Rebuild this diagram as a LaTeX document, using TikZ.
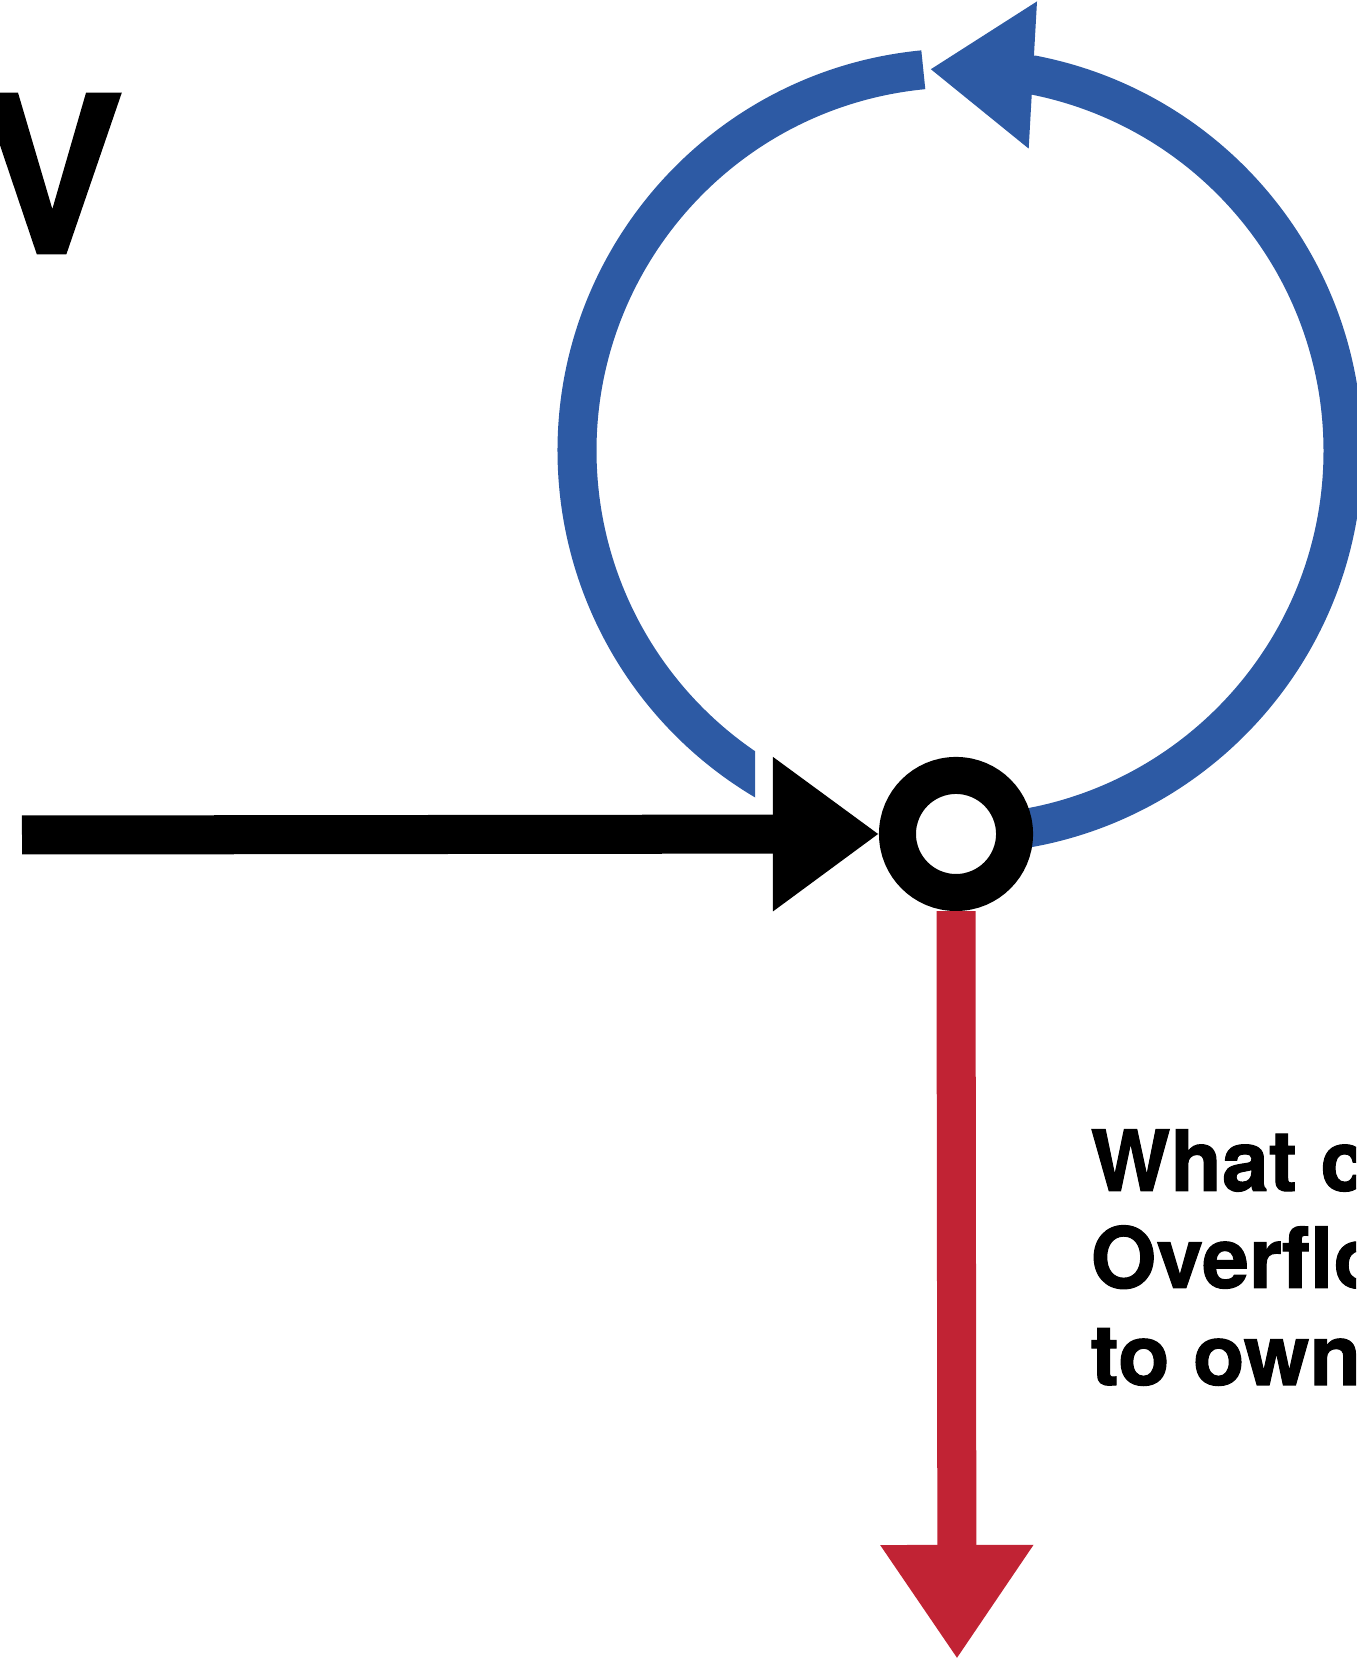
\documentclass[tikz,border=0pt]{standalone}
\usepackage{fontspec}
\setmainfont{TeX Gyre Heros}[BoldFeatures={FakeBold=1.2}]
\usetikzlibrary{arrows.meta,backgrounds}

\definecolor{loopblue}{RGB}{45,90,164}
\definecolor{drainred}{RGB}{193,35,52}

\tikzset{
    flow/.style={line width=0.39cm},
    bighead/.style={-{Triangle[length=1.06cm,width=1.47cm]}},
    label/.style={font=\bfseries\fontsize{24}{27.6}\selectfont, align=left, inner sep=0pt},
}

\begin{document}
\begin{tikzpicture}[x=0.01cm, y=0.01cm]
    \useasboundingbox (0,0) rectangle (1356,1661);
    \clip (0,0) rectangle (1356,1661);

    % Ring
    \node[circle, draw, fill=white, line width=0.37cm, inner sep=0pt, minimum size=1.17cm] (hub) at (956,827) {};
    \coordinate (src) at (22,826);
    \coordinate (sink) at (957,2);
    \path (hub) ++(4,383) coordinate (loopc);

    % Loop
    \begin{scope}[on background layer]
        \draw[flow, loopblue, -{Triangle[length=1.03cm,width=1.40cm]}] ([shift={(-90:383)}]loopc) arc[start angle=-90, end angle=79, radius=383] -- ([shift={(94.5:383)}]loopc);
        \begin{scope}
            \clip (0,0) rectangle (755,1661) (755,1000) rectangle (1356,1661);
            \draw[flow, loopblue] ([shift={(95.5:383)}]loopc) arc[start angle=95.5, end angle=245, radius=383];
        \end{scope}
    \end{scope}

    % In and out
    \draw[flow, bighead] (src) -- (hub.west);
    \draw[flow, drainred, -{Triangle[length=1.14cm,width=1.45cm]}] (hub.south) -- (sink);

    % Text
    \node[inner sep=0pt, anchor=base east, font=\bfseries\fontsize{62}{70}\selectfont] (title) at (125,1408) {V};
    \node[label, anchor=base west] (note) at (1090,276) {What c\\Overflo\\to owne};
\end{tikzpicture}
\end{document}
